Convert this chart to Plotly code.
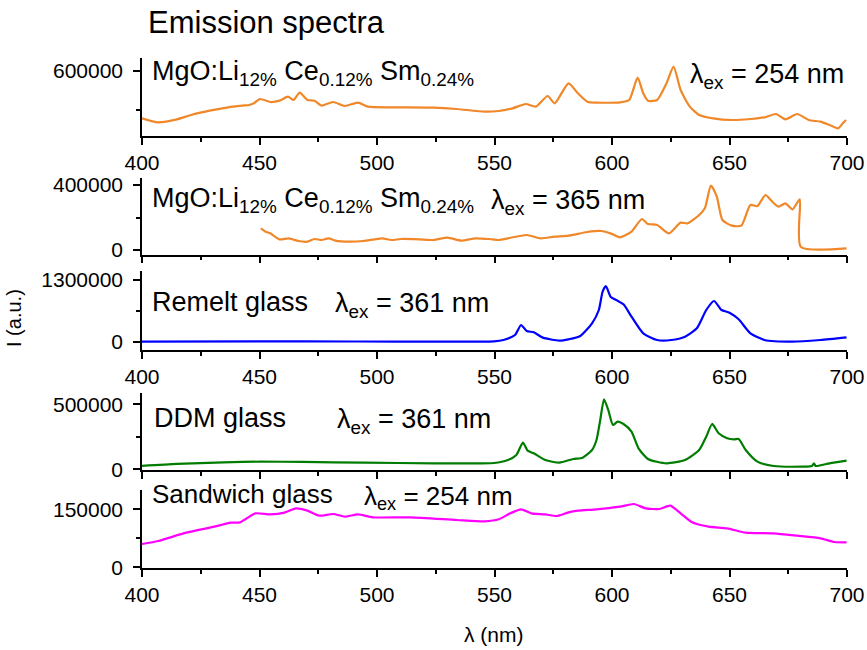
import plotly.graph_objects as go

# ---------------- data ----------------
wl_mgo254 = [400.0, 406.9, 414.9, 420.8, 428.8, 436.7, 442.7, 445.6, 447.6, 450.2, 454.6, 458.5,
             462.1, 464.5, 467.1, 470.4, 473.4, 476.4, 481.3, 486.3, 491.9, 496.2, 506.1, 524.0,
             533.9, 545.8, 551.8, 557.7, 563.3, 567.6, 572.6, 575.6, 581.5, 585.5, 589.5, 593.4,
             603.4, 607.3, 610.9, 613.3, 615.3, 619.2, 623.2, 626.2, 629.2, 633.1, 637.1, 643.0,
             651.0, 658.9, 664.9, 669.8, 673.8, 678.8, 683.7, 688.7, 692.6, 696.2, 698.2, 699.6]
I_mgo254 = [236300, 205800, 228700, 261800, 294900, 320300, 333000, 338100, 350900, 383900,
            361100, 371200, 401800, 376300, 432300, 376300, 371200, 333000, 361100, 330500,
            356000, 325400, 320300, 317800, 307600, 287300, 292300, 312700, 345800, 325400,
            406900, 350900, 503600, 427200, 363600, 356000, 358500, 376300, 546800, 427200,
            371200, 376300, 503600, 630800, 452700, 325400, 261800, 236300, 223600, 231300,
            244000, 269400, 228700, 269400, 223600, 210900, 185500, 160000, 198200, 223600]

wl_mgo365 = [450.6, 452.6, 454.6, 458.5, 462.5, 466.5, 470.4, 473.4, 476.4, 479.4, 482.3, 488.3,
             494.2, 502.2, 506.1, 510.1, 518.0, 524.0, 529.9, 535.9, 541.9, 547.8, 551.8, 555.7,
             563.7, 569.6, 575.6, 581.5, 589.5, 595.4, 599.4, 603.4, 608.3, 612.7, 615.3, 619.2,
             624.2, 629.2, 632.1, 637.1, 639.5, 642.1, 644.6, 647.0, 651.0, 655.0, 658.9, 661.9,
             665.3, 667.8, 670.8, 673.8, 676.8, 679.9, 680.3, 699.8]
I_mgo365 = [133400, 112900, 102600, 65700, 71800, 55400, 51300, 67700, 61600, 71800, 57500, 51300,
            55400, 71800, 61600, 67700, 65700, 61600, 75900, 57500, 71800, 67700, 61600, 71800,
            92400, 71800, 82100, 88300, 110800, 117000, 102600, 78000, 112900, 190800, 160100, 153900,
            102600, 168200, 164100, 215400, 256400, 395900, 328200, 184600, 149800, 149800, 277000, 270800,
            338500, 303600, 266700, 287200, 250300, 311800, 20600, 10300]

wl_remelt = [400.0, 469.4, 549.8, 553.8, 558.7, 561.3, 563.7, 566.7, 570.6, 577.6, 581.5, 586.5,
             591.5, 594.4, 596.0, 597.4, 599.4, 601.8, 604.9, 608.3, 613.3, 619.2, 625.2, 631.1,
             636.1, 640.1, 643.4, 646.6, 650.0, 653.9, 658.9, 664.9, 676.8, 688.7, 699.8]
I_remelt = [7100, 14100, 14100, 42000, 146800, 356500, 230700, 202800, 90900, 28000, 56000, 125900,
            391500, 671000, 1055400, 1174200, 950600, 880700, 789800, 531200, 181800, 42000, 42000, 111900,
            286600, 671000, 859700, 671000, 615100, 475300, 181800, 42000, 7100, 42000, 97900]

wl_ddm = [400.0, 414.9, 434.7, 450.6, 468.4, 494.2, 524.0, 549.8, 555.7, 559.3, 562.1, 564.1,
          566.7, 571.6, 577.6, 583.5, 587.5, 591.5, 593.4, 595.0, 596.6, 598.4, 600.4, 602.4,
          604.9, 608.3, 611.3, 615.3, 623.2, 631.1, 637.1, 640.1, 642.6, 645.4, 649.0, 652.0,
          653.9, 656.9, 661.9, 668.8, 680.7, 685.1, 685.9, 686.7, 692.6, 699.8]
I_ddm = [25400, 40800, 53600, 58700, 56200, 51000, 45900, 48500, 71500, 110000, 204900, 143300,
         122800, 71500, 51000, 79200, 89500, 148500, 225400, 379200, 538200, 456100, 340800, 366400,
         348500, 289500, 161300, 79200, 45900, 71500, 148500, 251000, 348500, 276700, 238200, 230500,
         233100, 148500, 58700, 25400, 20300, 25400, 45900, 25400, 45900, 66400]

wl_sandwich = [400.0, 406.9, 418.8, 430.8, 437.7, 441.7, 444.6, 448.2, 454.6, 460.6, 465.5, 470.4,
               475.4, 481.3, 486.3, 491.9, 498.2, 514.1, 533.9, 545.8, 551.8, 556.7, 561.3, 565.7,
               571.6, 576.6, 581.5, 585.5, 593.4, 603.4, 609.3, 614.3, 620.2, 624.8, 629.2, 634.1,
               641.1, 649.0, 656.9, 668.8, 678.8, 688.7, 694.6, 699.8]
I_sandwich = [60300, 68100, 89600, 105100, 115500, 116300, 126700, 139600, 137000, 141300, 152500, 146500,
              133600, 137900, 131000, 137000, 129300, 129300, 122400, 118900, 124100, 139600, 150000, 139600,
              137000, 132700, 142200, 146500, 150000, 156800, 163700, 152500, 150800, 159400, 139600, 116300,
              105100, 100800, 89600, 87900, 81800, 75000, 65500, 64600]

x_ticks = [400, 450, 500, 550, 600, 650, 700]

series = [
    (wl_mgo254, I_mgo254, "rgb(240,135,40)"),
    (wl_mgo365, I_mgo365, "rgb(240,135,40)"),
    (wl_remelt, I_remelt, "rgb(0,0,255)"),
    (wl_ddm, I_ddm, "rgb(0,125,0)"),
    (wl_sandwich, I_sandwich, "rgb(255,0,255)"),
]
y_ranges = [[101500, 697000], [-28900, 444900], [-167700, 1495000], [-5400, 589000], [-1800, 199900]]
y_dticks = [600000, 400000, 1300000, 500000, 150000]
domains = [[0.8471, 1.0], [0.6143, 0.7653], [0.4275, 0.5829], [0.1922, 0.3437], [0.0, 0.1529]]
show_xlabels = [True, False, True, False, True]

FONT = "Liberation Sans, Arial, sans-serif"
fig = go.Figure()
layout = {}
for i, ((xs, ys, col), yr, dt, dom, shx) in enumerate(zip(series, y_ranges, y_dticks, domains, show_xlabels), start=1):
    sfx = "" if i == 1 else str(i)
    fig.add_trace(go.Scatter(x=xs, y=ys, mode="lines", line=dict(color=col, width=2.2, shape="spline", smoothing=0.6),
                             xaxis="x" + sfx, yaxis="y" + sfx, showlegend=False))
    layout["xaxis" + sfx] = dict(domain=[0, 1], anchor="y" + sfx, range=[400, 700], tickvals=x_ticks,
                                 showticklabels=shx, ticks="outside", ticklen=7, tickwidth=1.5, tickcolor="black",
                                 minor=dict(dtick=25, tick0=400, ticks="outside", ticklen=4, tickwidth=1.5, tickcolor="black"),
                                 showline=True, linewidth=1.5, linecolor="black", showgrid=False, zeroline=False,
                                 tickfont=dict(size=21, color="black", family=FONT))
    layout["yaxis" + sfx] = dict(domain=dom, anchor="x" + sfx, range=yr, tick0=0, dtick=dt, tickformat="d",
                                 ticks="outside", ticklen=7, tickwidth=1.5, tickcolor="black", ticklabelstandoff=6,
                                 minor=dict(dtick=dt / 2, tick0=0, ticks="outside", ticklen=4, tickwidth=1.5, tickcolor="black"),
                                 showline=True, linewidth=1.5, linecolor="black", showgrid=False, zeroline=False,
                                 tickfont=dict(size=21, color="black", family=FONT))


def px(x):
    return (x - 142) / 705


def py(y):
    return (568 - y) / 510


AF = 27
ann = [
    dict(text="Emission spectra", x=px(146), y=py(22), size=31, xa="left"),
    dict(text="MgO:Li<sub>12%</sub> Ce<sub>0.12%</sub> Sm<sub>0.24%</sub>", x=px(150), y=py(73), size=AF, xa="left"),
    dict(text="λ<sub>ex</sub> = 254 nm", x=px(846), y=py(76), size=AF, xa="right"),
    dict(text="MgO:Li<sub>12%</sub> Ce<sub>0.12%</sub> Sm<sub>0.24%</sub>", x=px(150), y=py(200), size=AF, xa="left"),
    dict(text="λ<sub>ex</sub> = 365 nm", x=px(489), y=py(202), size=AF, xa="left"),
    dict(text="Remelt glass", x=px(150), y=py(302), size=AF, xa="left"),
    dict(text="λ<sub>ex</sub> = 361 nm", x=px(333), y=py(305), size=AF, xa="left"),
    dict(text="DDM glass", x=px(152), y=py(418), size=AF, xa="left"),
    dict(text="λ<sub>ex</sub> = 361 nm", x=px(335), y=py(421), size=AF, xa="left"),
    dict(text="Sandwich glass", x=px(150), y=py(494), size=AF - 1, xa="left"),
    dict(text="λ<sub>ex</sub> = 254 nm", x=px(362), y=py(497), size=AF - 1, xa="left"),
    dict(text="λ (nm)", x=px(494), y=py(634), size=21, xa="center"),
]
annotations = [dict(text=a["text"], x=a["x"], y=a["y"], xref="paper", yref="paper", showarrow=False,
                    xanchor=a["xa"], yanchor="middle", font=dict(size=a["size"], color="black", family=FONT))
               for a in ann]
annotations.append(dict(text="I (a.u.)", x=px(14), y=py(318), xref="paper", yref="paper", showarrow=False,
                        textangle=-90, xanchor="center", yanchor="middle",
                        font=dict(size=20, color="black", family=FONT)))

fig.update_layout(**layout)
fig.update_layout(width=867, height=650, margin=dict(l=142, r=20, t=58, b=82, autoexpand=False),
                  paper_bgcolor="white", plot_bgcolor="white", annotations=annotations,
                  font=dict(family=FONT, color="black"))
fig.write_html("out.html")
